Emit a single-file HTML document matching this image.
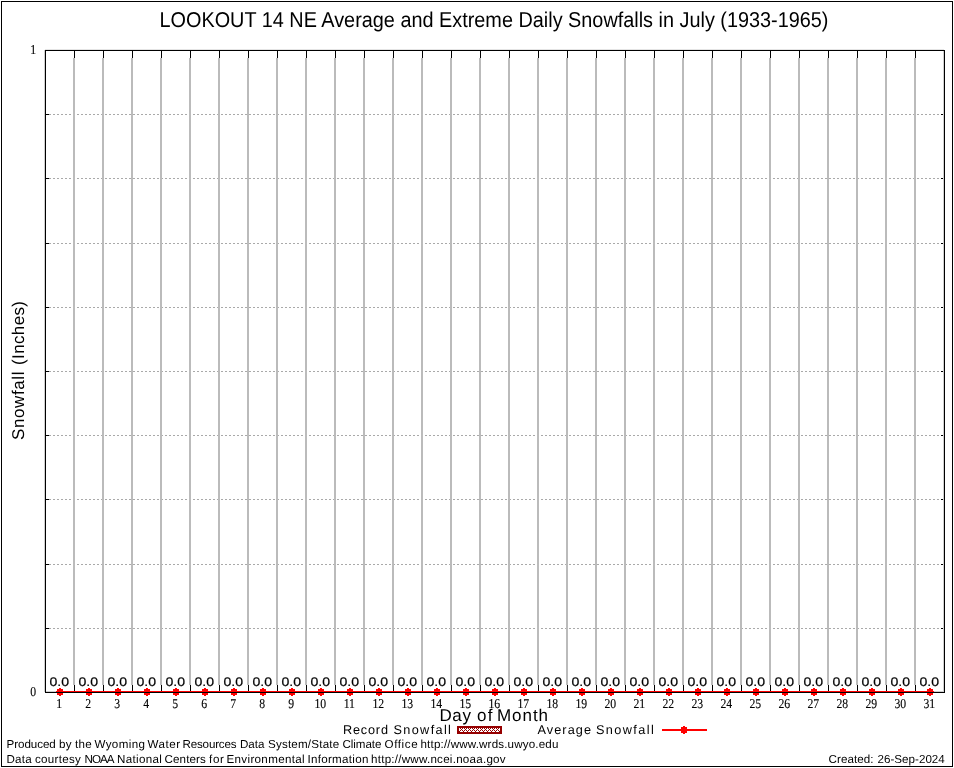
<!DOCTYPE html><html><head><meta charset="utf-8"><style>html,body{margin:0;padding:0;background:#fff;overflow:hidden}svg{display:block;will-change:transform;text-rendering:geometricPrecision;}</style></head><body>
<svg width="954" height="768" viewBox="0 0 954 768">
<rect x="0" y="0" width="954" height="768" fill="#fff"/>
<rect x="1.5" y="1.5" width="951" height="765" fill="none" stroke="#000" stroke-width="1"/>
<line x1="49" y1="114.5" x2="941" y2="114.5" stroke="#a9a9a9" stroke-width="1" stroke-dasharray="2,2"/>
<rect x="46" y="114" width="3" height="1" fill="#000"/>
<rect x="941" y="114" width="3" height="1" fill="#000"/>
<line x1="49" y1="178.5" x2="941" y2="178.5" stroke="#a9a9a9" stroke-width="1" stroke-dasharray="2,2"/>
<rect x="46" y="178" width="3" height="1" fill="#000"/>
<rect x="941" y="178" width="3" height="1" fill="#000"/>
<line x1="49" y1="243.5" x2="941" y2="243.5" stroke="#a9a9a9" stroke-width="1" stroke-dasharray="2,2"/>
<rect x="46" y="243" width="3" height="1" fill="#000"/>
<rect x="941" y="243" width="3" height="1" fill="#000"/>
<line x1="49" y1="307.5" x2="941" y2="307.5" stroke="#a9a9a9" stroke-width="1" stroke-dasharray="2,2"/>
<rect x="46" y="307" width="3" height="1" fill="#000"/>
<rect x="941" y="307" width="3" height="1" fill="#000"/>
<line x1="49" y1="371.5" x2="941" y2="371.5" stroke="#a9a9a9" stroke-width="1" stroke-dasharray="2,2"/>
<rect x="46" y="371" width="3" height="1" fill="#000"/>
<rect x="941" y="371" width="3" height="1" fill="#000"/>
<line x1="49" y1="435.5" x2="941" y2="435.5" stroke="#a9a9a9" stroke-width="1" stroke-dasharray="2,2"/>
<rect x="46" y="435" width="3" height="1" fill="#000"/>
<rect x="941" y="435" width="3" height="1" fill="#000"/>
<line x1="49" y1="499.5" x2="941" y2="499.5" stroke="#a9a9a9" stroke-width="1" stroke-dasharray="2,2"/>
<rect x="46" y="499" width="3" height="1" fill="#000"/>
<rect x="941" y="499" width="3" height="1" fill="#000"/>
<line x1="49" y1="564.5" x2="941" y2="564.5" stroke="#a9a9a9" stroke-width="1" stroke-dasharray="2,2"/>
<rect x="46" y="564" width="3" height="1" fill="#000"/>
<rect x="941" y="564" width="3" height="1" fill="#000"/>
<line x1="49" y1="628.5" x2="941" y2="628.5" stroke="#a9a9a9" stroke-width="1" stroke-dasharray="2,2"/>
<rect x="46" y="628" width="3" height="1" fill="#000"/>
<rect x="941" y="628" width="3" height="1" fill="#000"/>
<rect x="73" y="58" width="2" height="627" fill="#bbbbbb"/>
<rect x="74" y="51" width="1" height="7" fill="#000"/>
<rect x="74" y="685" width="1" height="7" fill="#000"/>
<rect x="102" y="58" width="2" height="627" fill="#bbbbbb"/>
<rect x="103" y="51" width="1" height="7" fill="#000"/>
<rect x="103" y="685" width="1" height="7" fill="#000"/>
<rect x="131" y="58" width="2" height="627" fill="#bbbbbb"/>
<rect x="132" y="51" width="1" height="7" fill="#000"/>
<rect x="132" y="685" width="1" height="7" fill="#000"/>
<rect x="160" y="58" width="2" height="627" fill="#bbbbbb"/>
<rect x="161" y="51" width="1" height="7" fill="#000"/>
<rect x="161" y="685" width="1" height="7" fill="#000"/>
<rect x="189" y="58" width="2" height="627" fill="#bbbbbb"/>
<rect x="190" y="51" width="1" height="7" fill="#000"/>
<rect x="190" y="685" width="1" height="7" fill="#000"/>
<rect x="218" y="58" width="2" height="627" fill="#bbbbbb"/>
<rect x="219" y="51" width="1" height="7" fill="#000"/>
<rect x="219" y="685" width="1" height="7" fill="#000"/>
<rect x="247" y="58" width="2" height="627" fill="#bbbbbb"/>
<rect x="248" y="51" width="1" height="7" fill="#000"/>
<rect x="248" y="685" width="1" height="7" fill="#000"/>
<rect x="276" y="58" width="2" height="627" fill="#bbbbbb"/>
<rect x="277" y="51" width="1" height="7" fill="#000"/>
<rect x="277" y="685" width="1" height="7" fill="#000"/>
<rect x="305" y="58" width="2" height="627" fill="#bbbbbb"/>
<rect x="306" y="51" width="1" height="7" fill="#000"/>
<rect x="306" y="685" width="1" height="7" fill="#000"/>
<rect x="334" y="58" width="2" height="627" fill="#bbbbbb"/>
<rect x="335" y="51" width="1" height="7" fill="#000"/>
<rect x="335" y="685" width="1" height="7" fill="#000"/>
<rect x="363" y="58" width="2" height="627" fill="#bbbbbb"/>
<rect x="364" y="51" width="1" height="7" fill="#000"/>
<rect x="364" y="685" width="1" height="7" fill="#000"/>
<rect x="392" y="58" width="2" height="627" fill="#bbbbbb"/>
<rect x="393" y="51" width="1" height="7" fill="#000"/>
<rect x="393" y="685" width="1" height="7" fill="#000"/>
<rect x="421" y="58" width="2" height="627" fill="#bbbbbb"/>
<rect x="422" y="51" width="1" height="7" fill="#000"/>
<rect x="422" y="685" width="1" height="7" fill="#000"/>
<rect x="450" y="58" width="2" height="627" fill="#bbbbbb"/>
<rect x="451" y="51" width="1" height="7" fill="#000"/>
<rect x="451" y="685" width="1" height="7" fill="#000"/>
<rect x="479" y="58" width="2" height="627" fill="#bbbbbb"/>
<rect x="480" y="51" width="1" height="7" fill="#000"/>
<rect x="480" y="685" width="1" height="7" fill="#000"/>
<rect x="508" y="58" width="2" height="627" fill="#bbbbbb"/>
<rect x="509" y="51" width="1" height="7" fill="#000"/>
<rect x="509" y="685" width="1" height="7" fill="#000"/>
<rect x="537" y="58" width="2" height="627" fill="#bbbbbb"/>
<rect x="538" y="51" width="1" height="7" fill="#000"/>
<rect x="538" y="685" width="1" height="7" fill="#000"/>
<rect x="566" y="58" width="2" height="627" fill="#bbbbbb"/>
<rect x="567" y="51" width="1" height="7" fill="#000"/>
<rect x="567" y="685" width="1" height="7" fill="#000"/>
<rect x="595" y="58" width="2" height="627" fill="#bbbbbb"/>
<rect x="596" y="51" width="1" height="7" fill="#000"/>
<rect x="596" y="685" width="1" height="7" fill="#000"/>
<rect x="624" y="58" width="2" height="627" fill="#bbbbbb"/>
<rect x="625" y="51" width="1" height="7" fill="#000"/>
<rect x="625" y="685" width="1" height="7" fill="#000"/>
<rect x="653" y="58" width="2" height="627" fill="#bbbbbb"/>
<rect x="654" y="51" width="1" height="7" fill="#000"/>
<rect x="654" y="685" width="1" height="7" fill="#000"/>
<rect x="682" y="58" width="2" height="627" fill="#bbbbbb"/>
<rect x="683" y="51" width="1" height="7" fill="#000"/>
<rect x="683" y="685" width="1" height="7" fill="#000"/>
<rect x="711" y="58" width="2" height="627" fill="#bbbbbb"/>
<rect x="712" y="51" width="1" height="7" fill="#000"/>
<rect x="712" y="685" width="1" height="7" fill="#000"/>
<rect x="740" y="58" width="2" height="627" fill="#bbbbbb"/>
<rect x="741" y="51" width="1" height="7" fill="#000"/>
<rect x="741" y="685" width="1" height="7" fill="#000"/>
<rect x="769" y="58" width="2" height="627" fill="#bbbbbb"/>
<rect x="770" y="51" width="1" height="7" fill="#000"/>
<rect x="770" y="685" width="1" height="7" fill="#000"/>
<rect x="798" y="58" width="2" height="627" fill="#bbbbbb"/>
<rect x="799" y="51" width="1" height="7" fill="#000"/>
<rect x="799" y="685" width="1" height="7" fill="#000"/>
<rect x="827" y="58" width="2" height="627" fill="#bbbbbb"/>
<rect x="828" y="51" width="1" height="7" fill="#000"/>
<rect x="828" y="685" width="1" height="7" fill="#000"/>
<rect x="856" y="58" width="2" height="627" fill="#bbbbbb"/>
<rect x="857" y="51" width="1" height="7" fill="#000"/>
<rect x="857" y="685" width="1" height="7" fill="#000"/>
<rect x="885" y="58" width="2" height="627" fill="#bbbbbb"/>
<rect x="886" y="51" width="1" height="7" fill="#000"/>
<rect x="886" y="685" width="1" height="7" fill="#000"/>
<rect x="914" y="58" width="2" height="627" fill="#bbbbbb"/>
<rect x="915" y="51" width="1" height="7" fill="#000"/>
<rect x="915" y="685" width="1" height="7" fill="#000"/>
<text transform="translate(33.3,54) scale(0.87,1)" text-anchor="middle" font-family="Liberation Serif" font-size="13.5" stroke="#000" stroke-width="0.12" fill="#000">1</text>
<text transform="translate(33.2,696) scale(0.87,1)" text-anchor="middle" font-family="Liberation Serif" font-size="13.5" stroke="#000" stroke-width="0.12" fill="#000">0</text>
<rect x="56" y="691" width="878" height="1" fill="#ff0000"/>
<path d="M57.0 689h6v6h-6zM59.0 688h2v8h-2z" fill="#ff0000"/>
<text x="49.40" y="686" font-family="Liberation Sans" font-size="12.5" textLength="19.6" lengthAdjust="spacingAndGlyphs" fill="#000" stroke="#000" stroke-width="0.2">0.0</text>
<text transform="translate(59.30,708) scale(0.87,1)" text-anchor="middle" font-family="Liberation Serif" font-size="13.5" stroke="#000" stroke-width="0.12" fill="#000">1</text>
<path d="M86.0 689h6v6h-6zM88.0 688h2v8h-2z" fill="#ff0000"/>
<text x="78.40" y="686" font-family="Liberation Sans" font-size="12.5" textLength="19.6" lengthAdjust="spacingAndGlyphs" fill="#000" stroke="#000" stroke-width="0.2">0.0</text>
<text transform="translate(88.30,708) scale(0.87,1)" text-anchor="middle" font-family="Liberation Serif" font-size="13.5" stroke="#000" stroke-width="0.12" fill="#000">2</text>
<path d="M115.0 689h6v6h-6zM117.0 688h2v8h-2z" fill="#ff0000"/>
<text x="107.40" y="686" font-family="Liberation Sans" font-size="12.5" textLength="19.6" lengthAdjust="spacingAndGlyphs" fill="#000" stroke="#000" stroke-width="0.2">0.0</text>
<text transform="translate(117.30,708) scale(0.87,1)" text-anchor="middle" font-family="Liberation Serif" font-size="13.5" stroke="#000" stroke-width="0.12" fill="#000">3</text>
<path d="M144.0 689h6v6h-6zM146.0 688h2v8h-2z" fill="#ff0000"/>
<text x="136.40" y="686" font-family="Liberation Sans" font-size="12.5" textLength="19.6" lengthAdjust="spacingAndGlyphs" fill="#000" stroke="#000" stroke-width="0.2">0.0</text>
<text transform="translate(146.30,708) scale(0.87,1)" text-anchor="middle" font-family="Liberation Serif" font-size="13.5" stroke="#000" stroke-width="0.12" fill="#000">4</text>
<path d="M173.0 689h6v6h-6zM175.0 688h2v8h-2z" fill="#ff0000"/>
<text x="165.40" y="686" font-family="Liberation Sans" font-size="12.5" textLength="19.6" lengthAdjust="spacingAndGlyphs" fill="#000" stroke="#000" stroke-width="0.2">0.0</text>
<text transform="translate(175.30,708) scale(0.87,1)" text-anchor="middle" font-family="Liberation Serif" font-size="13.5" stroke="#000" stroke-width="0.12" fill="#000">5</text>
<path d="M202.0 689h6v6h-6zM204.0 688h2v8h-2z" fill="#ff0000"/>
<text x="194.40" y="686" font-family="Liberation Sans" font-size="12.5" textLength="19.6" lengthAdjust="spacingAndGlyphs" fill="#000" stroke="#000" stroke-width="0.2">0.0</text>
<text transform="translate(204.30,708) scale(0.87,1)" text-anchor="middle" font-family="Liberation Serif" font-size="13.5" stroke="#000" stroke-width="0.12" fill="#000">6</text>
<path d="M231.0 689h6v6h-6zM233.0 688h2v8h-2z" fill="#ff0000"/>
<text x="223.40" y="686" font-family="Liberation Sans" font-size="12.5" textLength="19.6" lengthAdjust="spacingAndGlyphs" fill="#000" stroke="#000" stroke-width="0.2">0.0</text>
<text transform="translate(233.30,708) scale(0.87,1)" text-anchor="middle" font-family="Liberation Serif" font-size="13.5" stroke="#000" stroke-width="0.12" fill="#000">7</text>
<path d="M260.0 689h6v6h-6zM262.0 688h2v8h-2z" fill="#ff0000"/>
<text x="252.40" y="686" font-family="Liberation Sans" font-size="12.5" textLength="19.6" lengthAdjust="spacingAndGlyphs" fill="#000" stroke="#000" stroke-width="0.2">0.0</text>
<text transform="translate(262.30,708) scale(0.87,1)" text-anchor="middle" font-family="Liberation Serif" font-size="13.5" stroke="#000" stroke-width="0.12" fill="#000">8</text>
<path d="M289.0 689h6v6h-6zM291.0 688h2v8h-2z" fill="#ff0000"/>
<text x="281.40" y="686" font-family="Liberation Sans" font-size="12.5" textLength="19.6" lengthAdjust="spacingAndGlyphs" fill="#000" stroke="#000" stroke-width="0.2">0.0</text>
<text transform="translate(291.30,708) scale(0.87,1)" text-anchor="middle" font-family="Liberation Serif" font-size="13.5" stroke="#000" stroke-width="0.12" fill="#000">9</text>
<path d="M318.0 689h6v6h-6zM320.0 688h2v8h-2z" fill="#ff0000"/>
<text x="310.40" y="686" font-family="Liberation Sans" font-size="12.5" textLength="19.6" lengthAdjust="spacingAndGlyphs" fill="#000" stroke="#000" stroke-width="0.2">0.0</text>
<text transform="translate(320.30,708) scale(0.87,1)" text-anchor="middle" font-family="Liberation Serif" font-size="13.5" stroke="#000" stroke-width="0.12" fill="#000">10</text>
<path d="M347.0 689h6v6h-6zM349.0 688h2v8h-2z" fill="#ff0000"/>
<text x="339.40" y="686" font-family="Liberation Sans" font-size="12.5" textLength="19.6" lengthAdjust="spacingAndGlyphs" fill="#000" stroke="#000" stroke-width="0.2">0.0</text>
<text transform="translate(349.30,708) scale(0.87,1)" text-anchor="middle" font-family="Liberation Serif" font-size="13.5" stroke="#000" stroke-width="0.12" fill="#000">11</text>
<path d="M376.0 689h6v6h-6zM378.0 688h2v8h-2z" fill="#ff0000"/>
<text x="368.40" y="686" font-family="Liberation Sans" font-size="12.5" textLength="19.6" lengthAdjust="spacingAndGlyphs" fill="#000" stroke="#000" stroke-width="0.2">0.0</text>
<text transform="translate(378.30,708) scale(0.87,1)" text-anchor="middle" font-family="Liberation Serif" font-size="13.5" stroke="#000" stroke-width="0.12" fill="#000">12</text>
<path d="M405.0 689h6v6h-6zM407.0 688h2v8h-2z" fill="#ff0000"/>
<text x="397.40" y="686" font-family="Liberation Sans" font-size="12.5" textLength="19.6" lengthAdjust="spacingAndGlyphs" fill="#000" stroke="#000" stroke-width="0.2">0.0</text>
<text transform="translate(407.30,708) scale(0.87,1)" text-anchor="middle" font-family="Liberation Serif" font-size="13.5" stroke="#000" stroke-width="0.12" fill="#000">13</text>
<path d="M434.0 689h6v6h-6zM436.0 688h2v8h-2z" fill="#ff0000"/>
<text x="426.40" y="686" font-family="Liberation Sans" font-size="12.5" textLength="19.6" lengthAdjust="spacingAndGlyphs" fill="#000" stroke="#000" stroke-width="0.2">0.0</text>
<text transform="translate(436.30,708) scale(0.87,1)" text-anchor="middle" font-family="Liberation Serif" font-size="13.5" stroke="#000" stroke-width="0.12" fill="#000">14</text>
<path d="M463.0 689h6v6h-6zM465.0 688h2v8h-2z" fill="#ff0000"/>
<text x="455.40" y="686" font-family="Liberation Sans" font-size="12.5" textLength="19.6" lengthAdjust="spacingAndGlyphs" fill="#000" stroke="#000" stroke-width="0.2">0.0</text>
<text transform="translate(465.30,708) scale(0.87,1)" text-anchor="middle" font-family="Liberation Serif" font-size="13.5" stroke="#000" stroke-width="0.12" fill="#000">15</text>
<path d="M492.0 689h6v6h-6zM494.0 688h2v8h-2z" fill="#ff0000"/>
<text x="484.40" y="686" font-family="Liberation Sans" font-size="12.5" textLength="19.6" lengthAdjust="spacingAndGlyphs" fill="#000" stroke="#000" stroke-width="0.2">0.0</text>
<text transform="translate(494.30,708) scale(0.87,1)" text-anchor="middle" font-family="Liberation Serif" font-size="13.5" stroke="#000" stroke-width="0.12" fill="#000">16</text>
<path d="M521.0 689h6v6h-6zM523.0 688h2v8h-2z" fill="#ff0000"/>
<text x="513.40" y="686" font-family="Liberation Sans" font-size="12.5" textLength="19.6" lengthAdjust="spacingAndGlyphs" fill="#000" stroke="#000" stroke-width="0.2">0.0</text>
<text transform="translate(523.30,708) scale(0.87,1)" text-anchor="middle" font-family="Liberation Serif" font-size="13.5" stroke="#000" stroke-width="0.12" fill="#000">17</text>
<path d="M550.0 689h6v6h-6zM552.0 688h2v8h-2z" fill="#ff0000"/>
<text x="542.40" y="686" font-family="Liberation Sans" font-size="12.5" textLength="19.6" lengthAdjust="spacingAndGlyphs" fill="#000" stroke="#000" stroke-width="0.2">0.0</text>
<text transform="translate(552.30,708) scale(0.87,1)" text-anchor="middle" font-family="Liberation Serif" font-size="13.5" stroke="#000" stroke-width="0.12" fill="#000">18</text>
<path d="M579.0 689h6v6h-6zM581.0 688h2v8h-2z" fill="#ff0000"/>
<text x="571.40" y="686" font-family="Liberation Sans" font-size="12.5" textLength="19.6" lengthAdjust="spacingAndGlyphs" fill="#000" stroke="#000" stroke-width="0.2">0.0</text>
<text transform="translate(581.30,708) scale(0.87,1)" text-anchor="middle" font-family="Liberation Serif" font-size="13.5" stroke="#000" stroke-width="0.12" fill="#000">19</text>
<path d="M608.0 689h6v6h-6zM610.0 688h2v8h-2z" fill="#ff0000"/>
<text x="600.40" y="686" font-family="Liberation Sans" font-size="12.5" textLength="19.6" lengthAdjust="spacingAndGlyphs" fill="#000" stroke="#000" stroke-width="0.2">0.0</text>
<text transform="translate(610.30,708) scale(0.87,1)" text-anchor="middle" font-family="Liberation Serif" font-size="13.5" stroke="#000" stroke-width="0.12" fill="#000">20</text>
<path d="M637.0 689h6v6h-6zM639.0 688h2v8h-2z" fill="#ff0000"/>
<text x="629.40" y="686" font-family="Liberation Sans" font-size="12.5" textLength="19.6" lengthAdjust="spacingAndGlyphs" fill="#000" stroke="#000" stroke-width="0.2">0.0</text>
<text transform="translate(639.30,708) scale(0.87,1)" text-anchor="middle" font-family="Liberation Serif" font-size="13.5" stroke="#000" stroke-width="0.12" fill="#000">21</text>
<path d="M666.0 689h6v6h-6zM668.0 688h2v8h-2z" fill="#ff0000"/>
<text x="658.40" y="686" font-family="Liberation Sans" font-size="12.5" textLength="19.6" lengthAdjust="spacingAndGlyphs" fill="#000" stroke="#000" stroke-width="0.2">0.0</text>
<text transform="translate(668.30,708) scale(0.87,1)" text-anchor="middle" font-family="Liberation Serif" font-size="13.5" stroke="#000" stroke-width="0.12" fill="#000">22</text>
<path d="M695.0 689h6v6h-6zM697.0 688h2v8h-2z" fill="#ff0000"/>
<text x="687.40" y="686" font-family="Liberation Sans" font-size="12.5" textLength="19.6" lengthAdjust="spacingAndGlyphs" fill="#000" stroke="#000" stroke-width="0.2">0.0</text>
<text transform="translate(697.30,708) scale(0.87,1)" text-anchor="middle" font-family="Liberation Serif" font-size="13.5" stroke="#000" stroke-width="0.12" fill="#000">23</text>
<path d="M724.0 689h6v6h-6zM726.0 688h2v8h-2z" fill="#ff0000"/>
<text x="716.40" y="686" font-family="Liberation Sans" font-size="12.5" textLength="19.6" lengthAdjust="spacingAndGlyphs" fill="#000" stroke="#000" stroke-width="0.2">0.0</text>
<text transform="translate(726.30,708) scale(0.87,1)" text-anchor="middle" font-family="Liberation Serif" font-size="13.5" stroke="#000" stroke-width="0.12" fill="#000">24</text>
<path d="M753.0 689h6v6h-6zM755.0 688h2v8h-2z" fill="#ff0000"/>
<text x="745.40" y="686" font-family="Liberation Sans" font-size="12.5" textLength="19.6" lengthAdjust="spacingAndGlyphs" fill="#000" stroke="#000" stroke-width="0.2">0.0</text>
<text transform="translate(755.30,708) scale(0.87,1)" text-anchor="middle" font-family="Liberation Serif" font-size="13.5" stroke="#000" stroke-width="0.12" fill="#000">25</text>
<path d="M782.0 689h6v6h-6zM784.0 688h2v8h-2z" fill="#ff0000"/>
<text x="774.40" y="686" font-family="Liberation Sans" font-size="12.5" textLength="19.6" lengthAdjust="spacingAndGlyphs" fill="#000" stroke="#000" stroke-width="0.2">0.0</text>
<text transform="translate(784.30,708) scale(0.87,1)" text-anchor="middle" font-family="Liberation Serif" font-size="13.5" stroke="#000" stroke-width="0.12" fill="#000">26</text>
<path d="M811.0 689h6v6h-6zM813.0 688h2v8h-2z" fill="#ff0000"/>
<text x="803.40" y="686" font-family="Liberation Sans" font-size="12.5" textLength="19.6" lengthAdjust="spacingAndGlyphs" fill="#000" stroke="#000" stroke-width="0.2">0.0</text>
<text transform="translate(813.30,708) scale(0.87,1)" text-anchor="middle" font-family="Liberation Serif" font-size="13.5" stroke="#000" stroke-width="0.12" fill="#000">27</text>
<path d="M840.0 689h6v6h-6zM842.0 688h2v8h-2z" fill="#ff0000"/>
<text x="832.40" y="686" font-family="Liberation Sans" font-size="12.5" textLength="19.6" lengthAdjust="spacingAndGlyphs" fill="#000" stroke="#000" stroke-width="0.2">0.0</text>
<text transform="translate(842.30,708) scale(0.87,1)" text-anchor="middle" font-family="Liberation Serif" font-size="13.5" stroke="#000" stroke-width="0.12" fill="#000">28</text>
<path d="M869.0 689h6v6h-6zM871.0 688h2v8h-2z" fill="#ff0000"/>
<text x="861.40" y="686" font-family="Liberation Sans" font-size="12.5" textLength="19.6" lengthAdjust="spacingAndGlyphs" fill="#000" stroke="#000" stroke-width="0.2">0.0</text>
<text transform="translate(871.30,708) scale(0.87,1)" text-anchor="middle" font-family="Liberation Serif" font-size="13.5" stroke="#000" stroke-width="0.12" fill="#000">29</text>
<path d="M898.0 689h6v6h-6zM900.0 688h2v8h-2z" fill="#ff0000"/>
<text x="890.40" y="686" font-family="Liberation Sans" font-size="12.5" textLength="19.6" lengthAdjust="spacingAndGlyphs" fill="#000" stroke="#000" stroke-width="0.2">0.0</text>
<text transform="translate(900.30,708) scale(0.87,1)" text-anchor="middle" font-family="Liberation Serif" font-size="13.5" stroke="#000" stroke-width="0.12" fill="#000">30</text>
<path d="M927.0 689h6v6h-6zM929.0 688h2v8h-2z" fill="#ff0000"/>
<text x="919.40" y="686" font-family="Liberation Sans" font-size="12.5" textLength="19.6" lengthAdjust="spacingAndGlyphs" fill="#000" stroke="#000" stroke-width="0.2">0.0</text>
<text transform="translate(929.30,708) scale(0.87,1)" text-anchor="middle" font-family="Liberation Serif" font-size="13.5" stroke="#000" stroke-width="0.12" fill="#000">31</text>
<rect x="44" y="50" width="1" height="642" fill="#cfcfcf"/>
<rect x="943" y="51" width="1" height="641" fill="#cfcfcf"/>
<rect x="45" y="49" width="899" height="1" fill="#e4e4e4"/>
<rect x="46" y="691" width="10" height="1" fill="#cfcfcf"/>
<rect x="934" y="691" width="9" height="1" fill="#cfcfcf"/>
<rect x="45" y="50" width="900" height="1" fill="#000"/>
<rect x="45" y="692" width="900" height="1" fill="#000"/>
<rect x="45" y="50" width="1" height="643" fill="#000"/>
<rect x="944" y="50" width="1" height="643" fill="#000"/>
<defs><pattern id="hatch" x="459" y="728" width="4" height="4" patternUnits="userSpaceOnUse"><rect width="4" height="4" fill="#fff"/><rect x="1" y="0" width="1" height="1" fill="#960000"/><rect x="3" y="0" width="1" height="1" fill="#960000"/><rect x="2" y="1" width="1" height="1" fill="#960000"/><rect x="1" y="2" width="1" height="1" fill="#960000"/><rect x="3" y="2" width="1" height="1" fill="#960000"/><rect x="0" y="3" width="1" height="1" fill="#960000"/></pattern></defs>
<rect x="457" y="726" width="45" height="8" fill="#960000"/>
<rect x="459" y="728" width="41" height="4" fill="url(#hatch)"/>
<rect x="662" y="729" width="45" height="2" fill="#ff0000"/>
<path d="M681 727h6v6h-6zM683 726h2v8h-2z" fill="#ff0000"/>
<text x="159.50" y="27" font-family="Liberation Sans" font-size="21.5" textLength="668.98" lengthAdjust="spacingAndGlyphs" fill="#000">LOOKOUT 14 NE Average and Extreme Daily Snowfalls in July (1933-1965)</text>
<text x="6.50" y="748" font-family="Liberation Sans" font-size="11.6" textLength="49.26" lengthAdjust="spacing" fill="#000">Produced</text>
<text x="59.00" y="748" font-family="Liberation Sans" font-size="11.6" textLength="12.45" lengthAdjust="spacing" fill="#000">by</text>
<text x="75.00" y="748" font-family="Liberation Sans" font-size="11.6" textLength="16.73" lengthAdjust="spacing" fill="#000">the</text>
<text x="94.50" y="748" font-family="Liberation Sans" font-size="11.6" textLength="50.44" lengthAdjust="spacing" fill="#000">Wyoming</text>
<text x="147.50" y="748" font-family="Liberation Sans" font-size="11.6" textLength="32.71" lengthAdjust="spacing" fill="#000">Water</text>
<text x="182.50" y="748" font-family="Liberation Sans" font-size="11.6" textLength="54.05" lengthAdjust="spacing" fill="#000">Resources</text>
<text x="240.00" y="748" font-family="Liberation Sans" font-size="11.6" textLength="24.50" lengthAdjust="spacing" fill="#000">Data</text>
<text x="268.00" y="748" font-family="Liberation Sans" font-size="11.6" textLength="71.18" lengthAdjust="spacing" fill="#000">System/State</text>
<text x="342.50" y="748" font-family="Liberation Sans" font-size="11.6" textLength="38.92" lengthAdjust="spacing" fill="#000">Climate</text>
<text x="384.50" y="748" font-family="Liberation Sans" font-size="11.6" textLength="33.09" lengthAdjust="spacing" fill="#000">Office</text>
<text x="420.50" y="748" font-family="Liberation Sans" font-size="11.6" textLength="137.90" lengthAdjust="spacing" fill="#000">http://www.wrds.uwyo.edu</text>
<text x="6.50" y="763" font-family="Liberation Sans" font-size="11.6" textLength="25.10" lengthAdjust="spacing" fill="#000">Data</text>
<text x="35.00" y="763" font-family="Liberation Sans" font-size="11.6" textLength="45.84" lengthAdjust="spacing" fill="#000">courtesy</text>
<text x="84.50" y="763" font-family="Liberation Sans" font-size="11.6" textLength="30.07" lengthAdjust="spacing" fill="#000">NOAA</text>
<text x="117.00" y="763" font-family="Liberation Sans" font-size="11.6" textLength="44.76" lengthAdjust="spacing" fill="#000">National</text>
<text x="164.50" y="763" font-family="Liberation Sans" font-size="11.6" textLength="41.42" lengthAdjust="spacing" fill="#000">Centers</text>
<text x="209.00" y="763" font-family="Liberation Sans" font-size="11.6" textLength="14.94" lengthAdjust="spacing" fill="#000">for</text>
<text x="226.50" y="763" font-family="Liberation Sans" font-size="11.6" textLength="78.15" lengthAdjust="spacing" fill="#000">Environmental</text>
<text x="307.50" y="763" font-family="Liberation Sans" font-size="11.6" textLength="60.83" lengthAdjust="spacing" fill="#000">Information</text>
<text x="371.00" y="763" font-family="Liberation Sans" font-size="11.6" textLength="134.57" lengthAdjust="spacing" fill="#000">http://www.ncei.noaa.gov</text>
<text x="828.50" y="763" font-family="Liberation Sans" font-size="11.6" textLength="45.09" lengthAdjust="spacing" fill="#000">Created:</text>
<text x="877.50" y="763" font-family="Liberation Sans" font-size="11.6" textLength="67.28" lengthAdjust="spacing" fill="#000">26-Sep-2024</text>
<text x="439.50" y="721" font-family="Liberation Sans" font-size="17" textLength="31.43" lengthAdjust="spacing" fill="#000">Day</text>
<text x="477.00" y="721" font-family="Liberation Sans" font-size="17" textLength="15.38" lengthAdjust="spacing" fill="#000">of</text>
<text x="497.00" y="721" font-family="Liberation Sans" font-size="17" textLength="51.05" lengthAdjust="spacing" fill="#000">Month</text>
<text x="343.00" y="734" font-family="Liberation Sans" font-size="12.7" textLength="44.94" lengthAdjust="spacing" fill="#000">Record</text>
<text x="393.50" y="734" font-family="Liberation Sans" font-size="12.7" textLength="57.40" lengthAdjust="spacing" fill="#000">Snowfall</text>
<text x="537.50" y="734" font-family="Liberation Sans" font-size="12.7" textLength="53.47" lengthAdjust="spacing" fill="#000">Average</text>
<text x="596.00" y="734" font-family="Liberation Sans" font-size="12.7" textLength="57.80" lengthAdjust="spacing" fill="#000">Snowfall</text>
<text transform="translate(24,0) rotate(-90)" x="-440.00" y="0" font-family="Liberation Sans" font-size="17" textLength="68.46" lengthAdjust="spacing" fill="#000">Snowfall</text>
<text transform="translate(24,0) rotate(-90)" x="-365.00" y="0" font-family="Liberation Sans" font-size="17" textLength="64.01" lengthAdjust="spacing" fill="#000">(Inches)</text>
</svg></body></html>
